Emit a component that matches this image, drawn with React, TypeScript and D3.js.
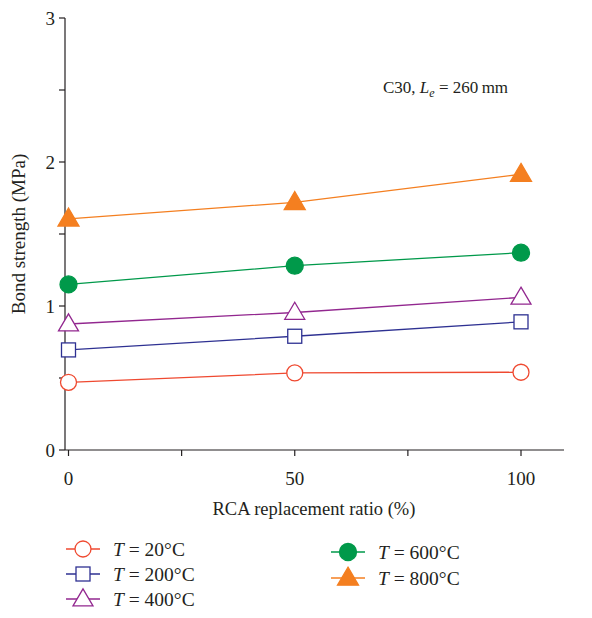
import React, { useRef, useEffect } from 'react';
import * as d3 from 'd3';

const ratios = [0, 50, 100];
const temps = ['20', '200', '400', '600', '800'];
const s20 = [0.47, 0.535, 0.54];
const s200 = [0.695, 0.79, 0.89];
const s400 = [0.875, 0.955, 1.06];
const s600 = [1.15, 1.28, 1.37];
const s800 = [1.605, 1.72, 1.915];
const yTicks = [0, 1, 2, 3];
const xTicks = [0, 50, 100];

const series = [
  { t: temps[0], v: s20, color: '#ef4930', shape: 'circle', filled: false },
  { t: temps[1], v: s200, color: '#2e3192', shape: 'square', filled: false },
  { t: temps[2], v: s400, color: '#92278f', shape: 'triangle', filled: false },
  { t: temps[3], v: s600, color: '#00994a', shape: 'circle', filled: true },
  { t: temps[4], v: s800, color: '#f47f20', shape: 'triangle', filled: true },
];

const font = '"Liberation Serif", "Times New Roman", serif';
const ink = '#231f20';

function drawMarker(g, shape, filled, color, cx, cy) {
  const fill = filled ? color : '#fff';
  if (shape === 'circle') {
    g.append('circle').attr('cx', cx).attr('cy', cy).attr('r', filled ? 8.5 : 8)
      .attr('fill', fill).attr('stroke', color).attr('stroke-width', 1.3);
  } else if (shape === 'square') {
    g.append('rect').attr('x', cx - 7).attr('y', cy - 7).attr('width', 14).attr('height', 14)
      .attr('fill', fill).attr('stroke', color).attr('stroke-width', 1.3);
  } else {
    const w = filled ? 10.5 : 10, h = filled ? 18 : 17;
    g.append('path')
      .attr('d', `M${cx},${cy - h * 0.6}L${cx + w},${cy + h * 0.4}L${cx - w},${cy + h * 0.4}Z`)
      .attr('fill', fill).attr('stroke', color).attr('stroke-width', 1.3);
  }
}

const App = () => {
  const ref = useRef(null);

  useEffect(() => {
    const svg = d3.select(ref.current);
    svg.selectAll('*').remove();

    const x = d3.scaleLinear().domain([0, 100]).range([68.5, 521]);
    const y = d3.scaleLinear().domain([0, 3]).range([450, 18]);
    const x0 = 65, x1 = 564;

    // axes
    svg.append('line').attr('x1', x0).attr('x2', x0).attr('y1', y(3)).attr('y2', y(0))
      .attr('stroke', ink).attr('stroke-width', 1.2);
    svg.append('line').attr('x1', x0).attr('x2', x1).attr('y1', y(0)).attr('y2', y(0))
      .attr('stroke', ink).attr('stroke-width', 1.2);

    d3.range(0, 3.01, 0.5).forEach(v => {
      svg.append('line').attr('x1', x0 - 6).attr('x2', x0).attr('y1', y(v)).attr('y2', y(v))
        .attr('stroke', ink).attr('stroke-width', 1.2);
    });
    yTicks.forEach(v => {
      svg.append('text').attr('x', x0 - 10).attr('y', y(v) + 6.5).attr('text-anchor', 'end')
        .attr('font-family', font).attr('font-size', 19).attr('fill', ink).text(v);
    });
    d3.range(0, 101, 25).forEach(v => {
      svg.append('line').attr('x1', x(v)).attr('x2', x(v)).attr('y1', y(0)).attr('y2', y(0) + 6)
        .attr('stroke', ink).attr('stroke-width', 1.2);
    });
    xTicks.forEach(v => {
      svg.append('text').attr('x', x(v)).attr('y', y(0) + 35).attr('text-anchor', 'middle')
        .attr('font-family', font).attr('font-size', 19).attr('fill', ink).text(v);
    });

    svg.append('text').attr('x', 314).attr('y', 515).attr('text-anchor', 'middle')
      .attr('font-family', font).attr('font-size', 18.5).attr('fill', ink)
      .text('RCA replacement ratio (%)');
    svg.append('text').attr('transform', `translate(25,234) rotate(-90)`).attr('text-anchor', 'middle')
      .attr('font-family', font).attr('font-size', 19).attr('fill', ink)
      .text('Bond strength (MPa)');

    const ann = svg.append('text').attr('x', 383).attr('y', 93)
      .attr('font-family', font).attr('font-size', 17).attr('fill', ink);
    ann.append('tspan').text('C30, ');
    ann.append('tspan').attr('font-style', 'italic').text('L');
    ann.append('tspan').attr('font-style', 'italic').attr('font-size', 12).attr('dy', 4).text('e');
    ann.append('tspan').attr('dy', -4).text(' = 260\u2009mm');

    const line = d3.line().x((d, i) => x(ratios[i])).y(d => y(d));

    series.forEach(s => {
      svg.append('path').datum(s.v).attr('d', line).attr('fill', 'none')
        .attr('stroke', s.color).attr('stroke-width', 1.3);
      const g = svg.append('g');
      s.v.forEach((v, i) => drawMarker(g, s.shape, s.filled, s.color, x(ratios[i]), y(v)));
    });

    // legend
    const legPos = [
      [83, 549], [83, 574], [83, 599], [348, 552], [348, 578],
    ];
    series.forEach((s, i) => {
      const [cx, cy] = legPos[i];
      const g = svg.append('g');
      g.append('line').attr('x1', cx - 17).attr('x2', cx + 17).attr('y1', cy).attr('y2', cy)
        .attr('stroke', s.color).attr('stroke-width', 1.3);
      drawMarker(g, s.shape, s.filled, s.color, cx, cy);
      const t = g.append('text').attr('x', cx + 30).attr('y', cy + 6.5)
        .attr('font-family', font).attr('font-size', 19.5).attr('fill', ink);
      t.append('tspan').attr('font-style', 'italic').text('T');
      t.append('tspan').text(` = ${s.t}\u00b0C`);
    });
  }, []);

  return (
    <svg ref={ref} width={592} height={618}
      style={{ position: 'absolute', left: 0, top: 0, background: '#fff' }} />
  );
};

export default App;
